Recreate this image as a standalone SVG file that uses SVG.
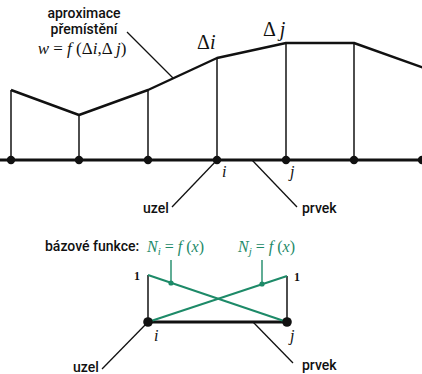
<svg xmlns="http://www.w3.org/2000/svg" width="422" height="374" viewBox="0 0 422 374">
<style>
.lbl{font-family:Roboto,"Liberation Sans",Arial,sans-serif;font-size:14px;font-weight:500;fill:#111}
.m{font-family:"Liberation Serif","Times New Roman",serif;fill:#111}
.it{font-style:italic}
.g{fill:#1d8a68}
.vert{stroke:#222;stroke-width:1.6;fill:none}
.thick{stroke:#111;stroke-width:3;fill:none}
.curve{stroke:#111;stroke-width:2.4;fill:none;stroke-linejoin:round}
.lead{stroke:#111;stroke-width:1.3;fill:none}
.gl{stroke:#1d8a68;stroke-width:2;fill:none}
.gle{stroke:#1d8a68;stroke-width:1.4;fill:none}
</style>
<rect width="422" height="374" fill="#fff"/>
<g id="connectors">
  <path class="vert" d="M11 90V160M79 115V160M148 90V160M217 58V160M286 43V160M354 43V160"/>
  <polyline class="curve" points="11,90 79,115 148,90 217,58 286,43 354,43 424,68"/>
  <line class="thick" x1="0" y1="160" x2="422" y2="160"/>
  <line class="lead" x1="127" y1="32" x2="173" y2="78"/>
  <line class="lead" x1="217" y1="160" x2="172" y2="207"/>
  <line class="lead" x1="252" y1="160" x2="297" y2="207"/>
  <path class="vert" d="M148 275V322M287 276V322"/>
  <line class="thick" x1="148" y1="322" x2="287" y2="322"/>
  <line class="gl" x1="148" y1="275" x2="287" y2="322"/>
  <line class="gl" x1="148" y1="322" x2="287" y2="276"/>
  <line class="gle" x1="171" y1="260" x2="171" y2="283"/>
  <line class="gle" x1="262" y1="260" x2="262" y2="284"/>
  <circle cx="171" cy="283" r="2.6" fill="#1d8a68"/>
  <circle cx="262" cy="284" r="2.6" fill="#1d8a68"/>
  <line class="lead" x1="148" y1="322" x2="102" y2="369"/>
  <line class="lead" x1="253" y1="322" x2="293" y2="363"/>
</g>
<g id="nodes-top">
  <circle cx="11" cy="160" r="4.2" fill="#111"/>
  <circle cx="79" cy="160" r="4.2" fill="#111"/>
  <circle cx="148" cy="160" r="4.2" fill="#111"/>
  <circle cx="217" cy="160" r="4.2" fill="#111"/>
  <circle cx="286" cy="160" r="4.2" fill="#111"/>
  <circle cx="354" cy="160" r="4.2" fill="#111"/>
  <circle cx="422" cy="160" r="4.2" fill="#111"/>
</g>
<g id="nodes-bottom">
  <circle cx="148" cy="322" r="4.8" fill="#111"/>
  <circle cx="287" cy="322" r="4.8" fill="#111"/>
</g>
<g id="label-approx">
  <text class="lbl" x="84" y="18" text-anchor="middle">aproximace</text>
  <text class="lbl" x="84" y="34" text-anchor="middle">přemístění</text>
  <text class="m" x="82" y="54" font-size="17" text-anchor="middle"><tspan class="it">w</tspan> = <tspan class="it">f</tspan> (Δ<tspan class="it">i</tspan>,Δ <tspan class="it">j</tspan>)</text>
</g>
<g id="label-delta">
  <text class="m" x="197" y="49" font-size="20">Δ<tspan class="it">i</tspan></text>
  <text class="m" x="263" y="36" font-size="20">Δ <tspan class="it">j</tspan></text>
</g>
<g id="labels-top">
  <text class="m it" x="222" y="177" font-size="16">i</text>
  <text class="m it" x="290" y="177" font-size="16">j</text>
  <text class="lbl" x="143" y="213">uzel</text>
  <text class="lbl" x="302" y="213">prvek</text>
</g>
<g id="labels-bottom">
  <text class="lbl" x="45" y="251">bázové funkce:</text>
  <text class="m g" x="147" y="252" font-size="16"><tspan class="it">N</tspan><tspan class="it" font-size="11" dy="3">i</tspan><tspan dy="-3"> = </tspan><tspan class="it">f</tspan> (<tspan class="it">x</tspan>)</text>
  <text class="m g" x="238" y="252" font-size="16"><tspan class="it">N</tspan><tspan class="it" font-size="11" dy="3">j</tspan><tspan dy="-3"> = </tspan><tspan class="it">f</tspan> (<tspan class="it">x</tspan>)</text>
  <text class="m" x="134" y="280" font-size="12" font-weight="bold">1</text>
  <text class="m" x="294" y="281" font-size="12" font-weight="bold">1</text>
  <text class="m it" x="154" y="341" font-size="16">i</text>
  <text class="m it" x="290" y="341" font-size="16">j</text>
  <text class="lbl" x="73" y="372">uzel</text>
  <text class="lbl" x="302" y="370">prvek</text>
</g>
</svg>
